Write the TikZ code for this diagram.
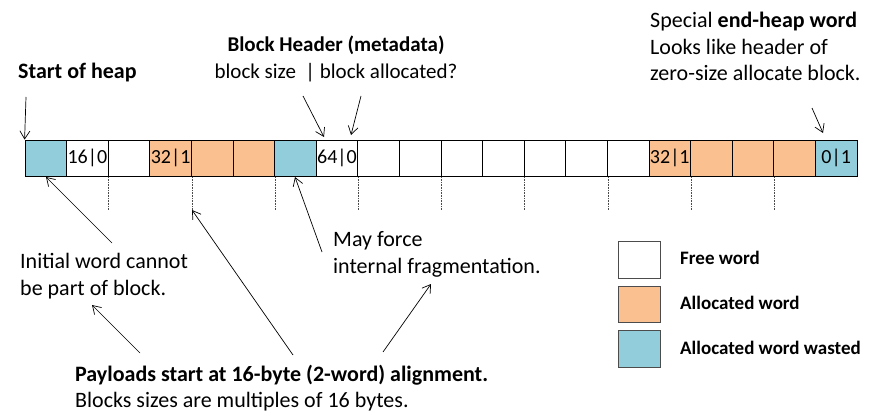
\documentclass[tikz,border=0pt]{standalone}
\usepackage{fontspec}
\setmainfont{Carlito}
\usetikzlibrary{arrows.meta,calc}
\definecolor{alloc}{HTML}{FAC090}
\definecolor{waste}{HTML}{92CDDC}
\begin{document}
\begin{tikzpicture}[x=1pt,y=-1pt,
  cell/.style={draw=black,line width=0.8pt,minimum width=41.6pt,minimum height=36.7pt,inner sep=0pt,font=\fontsize{20}{24}\selectfont},
  free/.style={cell,fill=white},
  used/.style={cell,fill=alloc},
  wasted/.style={cell,fill=waste},
  body/.style={font=\fontsize{22}{26.5}\selectfont,inner sep=0pt},
  hdrtext/.style={font=\fontsize{21}{26.5}\selectfont,inner sep=0pt},
  legtext/.style={font=\fontsize{19}{22}\selectfont\bfseries,inner sep=0pt,anchor=west},
  legbox/.style={draw=black!70,line width=0.8pt,minimum width=42pt,minimum height=36.6pt,inner sep=0pt},
  arr/.style={-{Straight Barb[length=8pt,width=10pt]},line width=0.7pt},
  guide/.style={densely dotted,line width=0.6pt,black!70}]
\useasboundingbox (0,0) rectangle (884,412);
% heap cells
\foreach \i/\s/\t in {0/wasted/,1/free/16|0,2/free/,3/used/32|1,4/used/,5/used/,6/wasted/,7/free/64|0,8/free/,9/free/,10/free/,11/free/,12/free/,13/free/,14/free/,15/used/32|1,16/used/,17/used/,18/used/,19/wasted/0|1}
  \node[\s] (c\i) at ({25+41.6*\i+20.8},158.35) {\t};
% alignment guides
\foreach \i in {1,3,5,7,9,11,13,15,17}
  \draw[guide] (c\i.south east) -- ++(0,33);
% texts
\node[body,anchor=west] (start) at (18,73) {\textbf{Start of heap}};
\node[hdrtext,align=center] (hdr) at (336,59) {\textbf{Block Header (metadata)}\\block size \ | block allocated?};
\node[body,align=left,anchor=west] (endw) at (650,46.5) {Special \textbf{end-heap word}\\Looks like header of\\zero-size allocate block.};
\node[body,align=left,anchor=west] (init) at (20,276) {Initial word cannot\\be part of block.};
\node[body,align=left,anchor=west] (frag) at (333,254.5) {May force\\internal fragmentation.};
\node[body,align=left,anchor=west] (pay) at (75,388) {\textbf{Payloads start at 16-byte (2-word) alignment.}\\Blocks sizes are multiples of 16 bytes.};
% legend
\node[legbox,fill=white] (lf) at (639,260) {};
\node[legbox,fill=alloc] (la) at (639,304.5) {};
\node[legbox,fill=waste] (lw) at (639,349) {};
\node[legtext] (lft) at (680,258) {Free word};
\node[legtext] (lat) at (680,302.5) {Allocated word};
\node[legtext] (lwt) at (680,347.5) {Allocated word wasted};
% arrow end points
\coordinate (s1) at (26,97);
\coordinate (h1) at (303,96);
\coordinate (h2) at (361,96);
\coordinate (h1t) at (324,137);
\coordinate (h2t) at (351,135);
\coordinate (e1) at (812,108);
\coordinate (e1t) at (823,133);
\coordinate (i1) at (112,243);
\coordinate (i1t) at (46,177);
\coordinate (f1) at (322,252);
\coordinate (f1t) at (295,177);
\coordinate (p1) at (140,353);
\coordinate (p1t) at (92,305);
\coordinate (p2) at (293,355);
\coordinate (p2t) at (192,210);
\coordinate (p3) at (383,352);
\coordinate (p3t) at (431,284);
% arrows
\draw[arr] (s1) -- (c0.north west);
\draw[arr] (h1) -- (h1t);
\draw[arr] (h2) -- (h2t);
\draw[arr] (e1) -- (e1t);
\draw[arr] (i1) -- (i1t);
\draw[arr] (f1) -- (f1t);
\draw[arr] (p1) -- (p1t);
\draw[arr] (p2) -- (p2t);
\draw[arr] (p3) -- (p3t);
\end{tikzpicture}
\end{document}
